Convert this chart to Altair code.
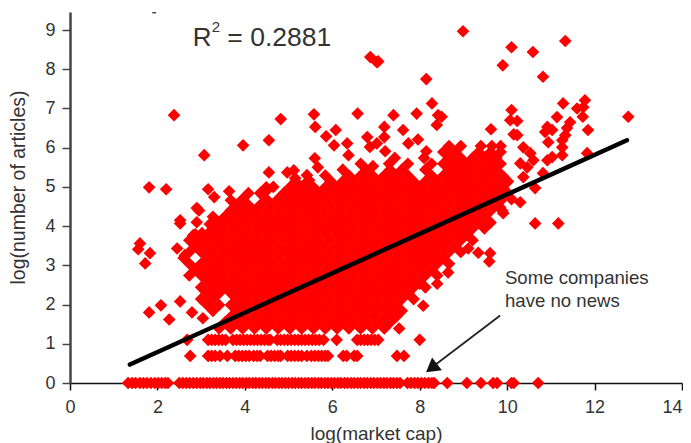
import altair as alt
import pandas as pd

FONT = "Liberation Sans"
RED = "#ff0000"
INK = "#333333"

zero_x = [1.33,1.42,1.5,1.6,1.68,1.76,1.85,1.94,2.02,2.1,2.18,2.24,2.5,2.58,2.66,2.74,2.82,2.9,2.98,3.05,3.13,3.2,3.28,3.35,3.43,3.5,3.58,3.65,3.73,3.8,3.88,3.95,4.03,4.1,4.18,4.25,4.33,4.4,4.48,4.55,4.63,4.7,4.78,4.85,4.93,5.0,5.08,5.15,5.23,5.3,5.38,5.45,5.53,5.6,5.68,5.75,5.83,5.9,5.98,6.05,6.13,6.2,6.28,6.35,6.43,6.5,6.58,6.65,6.73,6.8,6.88,6.95,7.03,7.1,7.18,7.25,7.33,7.4,7.48,7.55,7.72,7.8,7.88,7.96,8.04,8.12,8.2,8.28,8.33,8.63,9.08,9.4,9.68,9.77,10.1,10.15,10.71]
two_x = [2.75,3.16,3.24,3.32,3.43,3.6,3.78,3.86,3.94,4.02,4.1,4.2,4.28,4.35,4.52,4.6,4.68,4.76,4.82,4.98,5.06,5.14,5.22,5.3,5.42,5.52,5.6,5.68,5.76,5.84,5.9,6.25,6.33,6.5,6.57,7.48,7.64]
three_x = [2.68,3.16,3.24,3.32,3.4,3.48,3.56,3.73,3.81,3.89,3.97,4.05,4.13,4.21,4.29,4.37,4.45,4.53,4.58,4.74,4.82,4.9,4.98,5.06,5.14,5.22,5.3,5.38,5.46,5.54,5.62,5.7,5.8,6.1,6.57,6.65,6.73,6.81,6.89,6.97,7.05,8.0]

cloud_y = [1.39,1.54,1.69,1.84,1.99,2.14,2.29,2.44,2.59,2.74,2.89,3.04,3.19,3.34,3.49,3.64,3.79,3.94,4.09,4.24,4.39,4.54,4.69,4.84,4.99,5.14,5.29,5.44,5.59,5.74,5.89,6.04]
r01 = [3.41,3.68,3.95,4.22,4.49,4.76,5.03,5.3,5.57,5.84,6.11,6.38,6.65,6.92,7.19,7.53]
r02 = [3.54,3.81,4.08,4.35,4.62,4.89,5.16,5.43,5.7,5.97,6.24,6.51,6.78,7.05,7.32]
r03 = [3.68,3.95,4.22,4.49,4.76,5.03,5.3,5.57,5.84,6.11,6.38,6.65,6.92,7.19,7.46]
r04 = [3.27,3.81,4.08,4.35,4.62,4.89,5.16,5.43,5.7,5.97,6.24,6.51,6.78,7.05,7.32,7.59]
r05 = [3.14,3.41,3.68,3.95,4.22,4.49,4.76,5.03,5.3,5.57,5.84,6.11,6.38,6.65,6.92,7.19,7.46]
r06 = [3.0,3.27,3.81,4.08,4.35,4.62,4.89,5.16,5.43,5.7,5.97,6.24,6.51,6.78,7.05,7.32,7.59,7.86]
r07 = [3.14,3.41,3.68,3.95,4.22,4.49,4.76,5.03,5.3,5.57,5.84,6.11,6.38,6.65,6.92,7.19,7.46,7.73]
r08 = [3.0,3.27,3.54,3.81,4.08,4.35,4.62,4.89,5.16,5.43,5.7,5.97,6.24,6.51,6.78,7.05,7.32,7.59,7.86,8.13]
r09 = [3.14,3.41,3.68,3.95,4.22,4.49,4.76,5.03,5.3,5.57,5.84,6.11,6.38,6.65,6.92,7.19,7.46,7.73,8.0]
r10 = [2.73,3.0,3.27,3.54,3.81,4.08,4.35,4.62,4.89,5.16,5.43,5.7,5.97,6.24,6.51,6.78,7.05,7.32,7.59,7.86,8.13,8.4]
r11 = [2.87,3.14,3.41,3.68,3.95,4.22,4.49,4.76,5.03,5.3,5.57,5.84,6.11,6.38,6.65,6.92,7.19,7.46,7.73,8.0,8.27]
r12 = [2.73,3.0,3.27,3.54,3.81,4.08,4.35,4.62,4.89,5.16,5.43,5.7,5.97,6.24,6.51,6.78,7.05,7.32,7.59,7.86,8.13,8.4,8.67]
r13 = [2.6,3.14,3.41,3.68,3.95,4.22,4.49,4.76,5.03,5.3,5.57,5.84,6.11,6.38,6.65,6.92,7.19,7.46,7.73,8.0,8.27,8.54]
r14 = [2.73,3.0,3.27,3.54,3.81,4.08,4.35,4.62,4.89,5.16,5.43,5.7,5.97,6.24,6.51,6.78,7.05,7.32,7.59,7.86,8.13,8.4,8.67,8.94]
r15 = [2.87,3.14,3.41,3.68,3.95,4.22,4.49,4.76,5.03,5.3,5.57,5.84,6.11,6.38,6.65,6.92,7.19,7.46,7.73,8.0,8.27,8.54,8.81]
r16 = [2.73,3.0,3.27,3.54,3.81,4.08,4.35,4.62,4.89,5.16,5.43,5.7,5.97,6.24,6.51,6.78,7.05,7.32,7.59,7.86,8.13,8.4,8.67,8.94,9.21]
r17 = [2.87,3.14,3.41,3.68,3.95,4.22,4.49,4.76,5.03,5.3,5.57,5.84,6.11,6.38,6.65,6.92,7.19,7.46,7.73,8.0,8.27,8.54,8.81,9.08]
r18 = [3.27,3.54,3.81,4.08,4.35,4.62,4.89,5.16,5.43,5.7,5.97,6.24,6.51,6.78,7.05,7.32,7.59,7.86,8.13,8.4,8.67,8.94,9.21,9.48]
r19 = [3.41,3.68,3.95,4.22,4.49,4.76,5.03,5.3,5.57,5.84,6.11,6.38,6.65,6.92,7.19,7.46,7.73,8.0,8.27,8.54,8.81,9.08,9.35,9.62]
r20 = [3.27,3.54,3.81,4.08,4.35,4.62,4.89,5.16,5.43,5.7,5.97,6.24,6.51,6.78,7.05,7.32,7.59,7.86,8.13,8.4,8.67,8.94,9.21,9.48]
r21 = [3.68,3.95,4.22,4.49,4.76,5.03,5.3,5.57,5.84,6.11,6.38,6.65,6.92,7.19,7.46,7.73,8.0,8.27,8.54,8.81,9.08,9.35,9.62,9.89]
r22 = [3.81,4.08,4.35,4.62,4.89,5.16,5.43,5.7,5.97,6.24,6.51,6.78,7.05,7.32,7.59,7.86,8.13,8.4,8.67,8.94,9.21,9.48,9.75]
r23 = [3.95,4.49,4.76,5.03,5.3,5.57,5.84,6.11,6.38,6.65,6.92,7.19,7.46,7.73,8.0,8.27,8.54,8.81,9.08,9.35,9.62,9.89,10.1]
r24 = [4.08,4.35,4.89,5.16,5.43,5.7,5.97,6.24,6.51,6.78,7.05,7.32,7.59,7.86,8.13,8.4,8.67,8.94,9.21,9.48,9.75,10.02]
r25 = [4.49,5.03,5.3,5.57,5.84,6.11,6.38,6.65,6.92,7.19,7.46,7.73,8.0,8.27,8.54,8.81,9.08,9.35,9.62,9.89]
r26 = [5.16,5.43,5.97,6.24,6.51,6.78,7.05,7.32,7.59,7.86,8.13,8.4,8.67,8.94,9.21,9.48,9.75,10.02]
r27 = [5.84,6.38,6.65,6.92,7.19,7.46,7.73,8.27,8.54,8.81,9.08,9.35,9.62,9.89]
r28 = [6.24,6.78,7.32,7.59,8.13,8.67,8.94,9.21,9.48,9.75]
r29 = [6.65,7.3,7.73,8.27,8.54,8.81,9.08,9.35,9.62,9.85]
r30 = [7.43,8.1,8.67,8.94,9.21,9.48,9.75]
r31 = [8.54,8.81,9.35,9.62,9.85]
r32 = [8.67,8.94,9.4,9.65,9.85]
cloud_rows = [r01,r02,r03,r04,r05,r06,r07,r08,r09,r10,r11,r12,r13,r14,r15,r16,r17,r18,r19,r20,r21,r22,r23,r24,r25,r26,r27,r28,r29,r30,r31,r32]

out_x = [2.38,4.82,5.58,5.61,6.58,6.08,5.86,6.04,6.34,6.37,6.8,6.86,4.55,3.96,3.07,1.81,2.2,5.6,5.67,4.55,4.97,5.12,5.15,5.42,5.47,6.93,6.87,7.02,7.05,3.16,3.3,3.64,3.68,3.68,2.9,2.95,2.52,4.5,4.65,5.03,
         8.99,11.33,10.1,10.59,9.9,10.82,8.15,8.28,7.4,7.93,8.42,8.5,8.39,7.19,7.62,7.19,7.02,7.74,7.96,7.21,8.15,9.63,10.1,10.07,10.23,10.15,10.23,11.28,11.78,11.6,11.74,11.73,11.14,12.77,11.85,11.44,10.92,10.87,11.03,11.37,11.33,11.26,10.94,11.26,11.26,10.92,11.03,10.82,11.83,10.64,10.3,10.37,10.53,10.6,10.3,10.46,10.37,9.84,9.91,10.64,11.17,
         9.34,9.61,9.59,9.11,8.65,8.4,8.0,8.08,
         1.6,1.56,1.83,1.72,1.81,2.08,2.27,2.52,2.79,3.04,2.45,2.63,2.52,2.9,3.2,2.82,3.02]
out_y = [6.83,6.73,6.85,6.53,6.87,6.45,6.29,6.06,6.11,5.81,6.27,6.02,6.19,6.06,5.81,4.99,4.94,5.73,5.5,5.37,5.37,5.42,5.22,5.3,5.17,5.53,8.31,8.18,8.2,4.94,4.74,4.89,4.66,4.4,4.46,4.4,4.15,4.91,5.0,4.87,
         8.97,8.72,8.56,8.44,8.1,7.81,7.75,7.13,6.83,6.87,6.83,6.79,6.58,6.53,6.45,6.27,6.11,6.11,6.21,5.91,5.91,6.47,6.96,6.7,6.68,6.34,6.32,7.13,7.21,7.0,7.03,6.79,6.78,6.79,6.45,6.65,6.53,6.4,6.45,6.5,6.32,6.19,6.14,6.01,5.81,5.68,5.76,5.35,5.86,4.97,4.61,6.01,5.86,5.68,5.6,5.5,5.25,4.48,4.33,4.07,4.07,
         3.32,3.31,3.1,3.43,2.82,2.53,2.53,1.97,
         3.56,3.41,3.31,3.05,1.8,1.98,1.62,2.08,1.8,1.65,3.43,3.26,4.07,4.1,4.05,3.77,3.82]

trend_x = [1.37,12.74]
trend_y = [0.47,6.19]
arrow_x = [9.84,8.2]
arrow_y = [1.72,0.33]
head_x = [8.27]
head_y = [0.38]
speck_x = [1.88,1.97]
speck_y = [9.44,9.44]

x_ticks = [0,2,4,6,8,10,12,14]
y_ticks = [0,1,2,3,4,5,6,7,8,9]

px, py = [], []
px += zero_x; py += [0]*len(zero_x)
px += two_x; py += [0.69]*len(two_x)
px += three_x; py += [1.1]*len(three_x)
for yv, xs in zip(cloud_y, cloud_rows):
    px += xs; py += [yv]*len(xs)
px += out_x; py += out_y
points_df = pd.DataFrame({"x": px, "y": py})

x_scale = alt.Scale(domain=[0, 14], nice=False, zero=False)
y_scale = alt.Scale(domain=[0, 9.46], nice=False, zero=False)

x_enc = alt.X("x:Q", scale=x_scale, title="log(market cap)",
              axis=alt.Axis(values=x_ticks, grid=False, format="d", domainColor="#111111", domainWidth=1.5,
                            tickColor="#111111", tickWidth=1.5, tickSize=7, labelFont=FONT, labelFontSize=18,
                            labelColor=INK, labelPadding=8, labelOverlap=False,
                            labelAlign=alt.expr("datum.value == 14 ? 'right' : 'center'"),
                            titleFont=FONT, titleFontSize=19,
                            titleFontWeight="normal", titleColor=INK, titleY=41))
y_enc = alt.Y("y:Q", scale=y_scale, title="log(number of articles)",
              axis=alt.Axis(values=y_ticks, grid=False, format="d", domainColor="#444444", domainWidth=2.5,
                            tickColor="#444444", tickWidth=1.5, tickSize=8, labelFont=FONT, labelFontSize=18,
                            labelColor=INK, labelPadding=7, labelOverlap=False, titleFont=FONT, titleFontSize=19.5,
                            titleFontWeight="normal", titleColor=INK, titleX=-42, titleY=175))

points = alt.Chart(points_df).mark_point(shape="diamond", filled=True, size=160, color=RED, opacity=1).encode(x=x_enc, y=y_enc)

trend = alt.Chart(pd.DataFrame({"x": trend_x, "y": trend_y})).mark_line(
    color="black", strokeWidth=4.5, strokeCap="round").encode(
    x=alt.X("x:Q", scale=x_scale), y=alt.Y("y:Q", scale=y_scale))

arrow = alt.Chart(pd.DataFrame({"x": arrow_x, "y": arrow_y})).mark_line(color="#222222", strokeWidth=1.8).encode(
    x=alt.X("x:Q", scale=x_scale), y=alt.Y("y:Q", scale=y_scale))
head = alt.Chart(pd.DataFrame({"x": head_x, "y": head_y})).mark_point(
    shape="triangle-up", filled=True, size=256, color="#111111", opacity=1, angle=232).encode(
    x=alt.X("x:Q", scale=x_scale), y=alt.Y("y:Q", scale=y_scale))
speck = alt.Chart(pd.DataFrame({"x": speck_x, "y": speck_y})).mark_line(color="#222222", strokeWidth=1.2).encode(
    x=alt.X("x:Q", scale=x_scale), y=alt.Y("y:Q", scale=y_scale))

def label(x, y, text, size=18, color=INK):
    return alt.Chart(pd.DataFrame({"x": [x], "y": [y], "t": [text]})).mark_text(
        font=FONT, fontSize=size, color=color, align="left", baseline="alphabetic").encode(
        x=alt.X("x:Q", scale=x_scale), y=alt.Y("y:Q", scale=y_scale), text="t:N")

r_main = label(2.81, 8.59, "R", 26)
r_sup = label(3.24, 8.95, "2", 15)
r_val = label(3.6, 8.59, "= 0.2881", 26.5)
note1 = label(9.95, 2.53, "Some companies", 18.6)
note2 = label(9.95, 1.94, "have no news", 18.6)

chart = alt.layer(points, trend, arrow, head, speck, r_main, r_sup, r_val, note1, note2).properties(
    width=612, height=371,
    autosize=alt.AutoSizeParams(type="none"),
    padding={"left": 62, "top": 4, "right": 1, "bottom": 60},
    background="white",
).configure_view(stroke=None)

chart.save("out.html", embed_options={"renderer": "svg", "actions": False})
